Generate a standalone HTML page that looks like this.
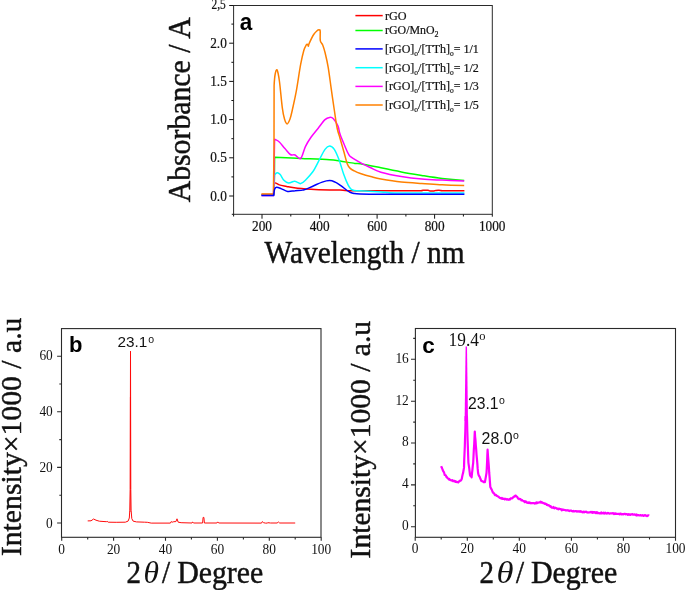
<!DOCTYPE html>
<html><head><meta charset="utf-8"><title>Figure</title>
<style>
html,body{margin:0;padding:0;background:#fff;}
svg{display:block;will-change:transform}
.s{font-family:"Liberation Serif","DejaVu Serif",serif;fill:#111}
.ss{font-family:"Liberation Sans","DejaVu Sans",sans-serif;fill:#111}
.b{font-family:"Liberation Sans","DejaVu Sans",sans-serif;font-weight:bold;fill:#000}
.c{fill:none;stroke-linejoin:round;stroke-linecap:butt}
</style></head><body>
<svg width="685" height="590" viewBox="0 0 685 590">

<g id="pa">
<rect x="233.6" y="5.5" width="258.7" height="208.8" fill="none" stroke="#2a2a2a" stroke-width="1"/>
<path d="M229.2,196.0H233.6M229.2,157.8H233.6M229.2,119.6H233.6M229.2,81.4H233.6M229.2,43.2H233.6M229.2,5.5H233.6M231.4,176.9H233.6M231.4,138.7H233.6M231.4,100.5H233.6M231.4,62.3H233.6M231.4,24.1H233.6M262.0,214.3V218.7M319.6,214.3V218.7M377.1,214.3V218.7M434.6,214.3V218.7M233.6,214.3V216.5M492.3,214.3V216.7M231.8,214.3H233.6M290.8,214.3V216.5M348.3,214.3V216.5M405.9,214.3V216.5M463.4,214.3V216.5" stroke="#111" stroke-width="1" fill="none"/>
<text class="s" transform="translate(226.8,200.6) scale(1,1.12)" font-size="13.3" text-anchor="end" stroke="#111" stroke-width="0.2">0.0</text>
<text class="s" transform="translate(226.8,162.4) scale(1,1.12)" font-size="13.3" text-anchor="end" stroke="#111" stroke-width="0.2">0.5</text>
<text class="s" transform="translate(226.8,124.1) scale(1,1.12)" font-size="13.3" text-anchor="end" stroke="#111" stroke-width="0.2">1.0</text>
<text class="s" transform="translate(226.8,85.9) scale(1,1.12)" font-size="13.3" text-anchor="end" stroke="#111" stroke-width="0.2">1.5</text>
<text class="s" transform="translate(226.8,47.7) scale(1,1.12)" font-size="13.3" text-anchor="end" stroke="#111" stroke-width="0.2">2.0</text>
<text class="s" transform="translate(225.8,8.9) scale(1,1.2)" font-size="11.4" text-anchor="end" stroke="#111" stroke-width="0.2">2,5</text>
<text class="s" transform="translate(262.0,231.0) scale(1,1.12)" font-size="13.3" text-anchor="middle" stroke="#111" stroke-width="0.2">200</text>
<text class="s" transform="translate(319.6,231.0) scale(1,1.12)" font-size="13.3" text-anchor="middle" stroke="#111" stroke-width="0.2">400</text>
<text class="s" transform="translate(377.1,231.0) scale(1,1.12)" font-size="13.3" text-anchor="middle" stroke="#111" stroke-width="0.2">600</text>
<text class="s" transform="translate(434.6,231.0) scale(1,1.12)" font-size="13.3" text-anchor="middle" stroke="#111" stroke-width="0.2">800</text>
<text class="s" transform="translate(492.2,231.0) scale(1,1.12)" font-size="13.3" text-anchor="middle" stroke="#111" stroke-width="0.2">1000</text>
<text class="s" transform="translate(264.6,262.9) scale(1,1.07)" font-size="29" textLength="200" lengthAdjust="spacingAndGlyphs" stroke="#111" stroke-width="0.45">Wavelength / nm</text>
<text class="s" transform="translate(189.8,202.3) rotate(-90)" font-size="30.5" textLength="185" lengthAdjust="spacingAndGlyphs" stroke="#111" stroke-width="0.45">Absorbance / A</text>
<text class="b" transform="translate(239.8,30.0) scale(1,1.06)" font-size="22.5">a</text>
<path class="c" d="M261.5,195.0 L273.6,195.0 L274.2,194.0 L274.6,157.3 C279.1,157.5 292.4,158.0 301.6,158.4 C310.8,158.8 323.2,159.2 329.6,159.7 C336.0,160.1 335.8,160.5 340.0,161.1 C344.2,161.7 351.4,163.0 354.8,163.4 C358.2,163.8 356.0,163.0 360.4,163.7 C364.8,164.4 374.1,166.4 380.9,167.8 C387.7,169.2 394.5,170.6 401.3,171.9 C408.1,173.2 415.0,174.3 421.8,175.4 C428.6,176.5 435.1,177.6 442.2,178.4 C449.3,179.2 460.5,180.2 464.2,180.5" stroke="#00ff00" stroke-width="1.5"/>
<path class="c" d="M261.5,194.6 L273.6,194.6 L274.2,190.0 C274.3,188.8 273.8,183.8 274.6,183.0 C275.5,182.2 277.3,184.3 279.3,184.9 C281.3,185.5 284.2,185.9 286.7,186.4 C289.2,186.9 290.1,187.2 294.2,187.7 C298.2,188.2 305.1,188.8 311.0,189.2 C316.9,189.6 324.8,189.8 329.6,189.9 C334.4,190.0 335.8,189.8 340.0,189.9 C344.2,190.0 342.2,190.6 354.8,190.7 C367.4,190.8 404.6,190.7 415.6,190.7 C426.6,190.7 419.8,190.8 421.0,190.7 C422.2,190.6 421.8,190.4 423.0,190.3 C424.2,190.2 426.8,190.2 428.0,190.3 C429.2,190.4 429.0,190.8 430.0,190.9 C431.0,191.0 433.0,191.0 434.0,190.9 C435.0,190.8 434.8,190.5 436.0,190.4 C437.2,190.3 439.8,190.3 441.0,190.4 C442.2,190.5 439.1,190.8 443.0,190.8 C446.9,190.9 460.8,190.7 464.4,190.7" stroke="#ff0000" stroke-width="1.5"/>
<path class="c" d="M261.5,195.2 L273.6,195.2 L274.3,180.0 L274.6,174.6 C275.1,174.3 276.5,172.8 277.4,172.8 C278.3,172.8 279.1,173.4 280.2,174.6 C281.3,175.8 282.5,178.8 283.9,180.2 C285.3,181.6 286.9,182.8 288.6,183.0 C290.3,183.2 292.8,181.3 294.2,181.2 C295.6,181.0 295.9,181.7 297.0,182.1 C298.1,182.5 299.3,183.9 300.7,183.6 C302.1,183.3 303.4,182.2 305.4,180.2 C307.4,178.2 310.6,174.9 312.8,171.8 C315.0,168.7 316.4,165.3 318.4,161.6 C320.4,157.9 323.1,152.0 325.0,149.4 C326.9,146.8 328.1,146.1 329.6,146.1 C331.2,146.1 332.7,147.1 334.3,149.4 C335.9,151.7 337.4,155.6 339.0,159.7 C340.6,163.8 342.1,169.8 343.6,174.0 C345.1,178.2 346.9,182.6 348.2,185.2 C349.5,187.8 350.2,188.4 351.2,189.3 C352.2,190.2 352.1,190.2 354.3,190.5 C356.5,190.8 360.1,190.7 364.5,190.9 C368.9,191.1 377.0,191.6 380.9,191.9 C384.8,192.2 385.6,192.4 388.0,192.6 C390.4,192.8 389.7,192.8 395.0,192.9 C400.3,193.0 408.4,193.0 420.0,193.0 C431.6,193.0 457.0,193.0 464.4,193.0" stroke="#00ffff" stroke-width="1.5"/>
<path class="c" d="M261.5,195.4 L273.6,195.4 L274.2,160.0 L274.6,139.2 C275.4,139.7 277.6,140.4 279.3,142.0 C281.0,143.6 283.0,146.4 284.9,148.5 C286.8,150.6 288.7,153.4 290.4,154.5 C292.1,155.6 293.4,154.3 295.1,155.0 C296.8,155.7 299.0,159.8 300.7,158.4 C302.4,157.0 303.7,150.1 305.4,146.6 C307.1,143.1 308.8,140.4 311.0,137.3 C313.2,134.2 316.1,130.9 318.4,128.0 C320.7,125.0 323.1,121.4 325.0,119.6 C326.9,117.8 328.2,117.6 329.6,117.4 C331.0,117.2 332.0,117.2 333.4,118.7 C334.8,120.2 336.9,123.5 338.0,126.1 C339.1,128.7 339.0,131.1 340.0,134.1 C341.0,137.1 342.7,141.1 344.1,144.3 C345.5,147.5 347.0,151.3 348.2,153.5 C349.4,155.7 349.2,155.7 351.2,157.2 C353.2,158.7 357.1,160.9 360.4,162.7 C363.6,164.5 367.3,166.2 370.7,167.8 C374.1,169.4 375.8,170.8 380.9,172.3 C386.0,173.8 394.5,175.5 401.3,176.6 C408.1,177.7 415.0,178.5 421.8,179.1 C428.6,179.7 435.1,179.8 442.2,180.1 C449.3,180.4 460.5,180.9 464.2,181.1" stroke="#ff00ff" stroke-width="1.5"/>
<path class="c" d="M261.5,194.1 L273.4,194.1 L274.0,150.0 L274.1,85.5 C274.2,83.6 274.7,76.6 275.2,74.0 C275.7,71.4 276.4,68.8 277.1,70.0 C277.8,71.2 278.5,74.6 279.4,81.0 C280.3,87.4 281.5,102.1 282.4,108.4 C283.2,114.7 283.7,116.4 284.5,119.0 C285.3,121.6 286.2,123.9 287.1,123.9 C288.0,123.9 289.1,121.3 290.0,119.0 C290.9,116.7 291.3,114.6 292.3,110.0 C293.3,105.4 294.8,99.2 296.2,91.6 C297.6,84.0 299.4,71.0 300.7,64.2 C302.0,57.4 302.9,53.7 303.8,50.5 C304.7,47.3 305.5,46.2 306.1,45.2 C306.7,44.2 307.2,44.2 307.6,44.4 C308.0,44.6 308.1,46.3 308.4,46.2 C308.6,46.1 308.2,45.6 309.1,43.6 C310.0,41.6 312.3,36.7 313.7,34.5 C315.1,32.3 316.6,31.2 317.5,30.4 C318.4,29.6 318.6,29.8 319.0,29.9 C319.4,30.0 320.0,29.2 320.2,31.0 C320.4,32.8 319.9,38.2 320.3,40.6 C320.7,43.0 322.0,43.2 322.8,45.2 C323.6,47.2 324.2,49.1 325.1,52.8 C326.0,56.5 327.2,61.3 328.2,67.3 C329.2,73.3 330.2,81.5 331.2,88.6 C332.2,95.7 333.3,103.4 334.3,110.0 C335.3,116.6 336.2,123.3 337.1,128.0 C338.1,132.7 338.8,134.1 340.0,138.2 C341.2,142.3 342.9,148.2 344.1,152.5 C345.3,156.8 346.2,161.0 347.2,163.7 C348.2,166.3 349.0,167.2 350.2,168.4 C351.4,169.6 352.6,170.1 354.3,170.9 C356.0,171.8 357.7,172.6 360.4,173.5 C363.1,174.4 367.3,175.7 370.7,176.6 C374.1,177.5 375.8,178.2 380.9,179.1 C386.0,180.0 394.5,181.4 401.3,182.1 C408.1,182.8 415.0,183.1 421.8,183.5 C428.6,183.9 435.1,184.5 442.2,184.8 C449.3,185.2 460.5,185.5 464.2,185.6" stroke="#ff8000" stroke-width="1.5"/>
<path class="c" d="M261.5,195.5 L273.6,195.5 C273.8,194.4 274.1,190.6 274.6,189.2 C275.1,187.8 275.4,187.4 276.5,187.3 C277.6,187.2 279.2,187.9 281.1,188.6 C283.0,189.3 285.3,191.1 287.6,191.4 C289.9,191.8 292.5,190.9 295.1,190.7 C297.8,190.4 300.6,190.7 303.5,189.9 C306.4,189.2 309.7,187.5 312.8,186.2 C315.9,184.9 319.4,183.0 322.2,182.1 C325.0,181.2 327.4,180.6 329.6,180.6 C331.8,180.6 333.3,181.3 335.2,182.1 C337.1,182.9 338.9,184.3 340.8,185.6 C342.7,186.9 344.9,188.9 346.4,190.0 C347.9,191.1 348.7,191.6 350.0,192.2 C351.3,192.8 352.3,193.2 354.0,193.5 C355.7,193.8 355.7,193.9 360.0,194.0 C364.3,194.1 370.0,194.2 380.0,194.2 C390.0,194.2 405.9,194.2 420.0,194.2 C434.1,194.2 457.0,194.2 464.4,194.2" stroke="#0000ff" stroke-width="1.5"/>
<path d="M355.4,15.6H382.7" stroke="#ff0000" stroke-width="1.5"/>
<path d="M355.4,30.5H382.7" stroke="#00ff00" stroke-width="1.5"/>
<path d="M355.4,48.9H382.7" stroke="#0000ff" stroke-width="1.5"/>
<path d="M355.4,67.7H382.7" stroke="#00ffff" stroke-width="1.5"/>
<path d="M355.4,86.4H382.7" stroke="#ff00ff" stroke-width="1.5"/>
<path d="M355.4,105.0H382.7" stroke="#ff8000" stroke-width="1.5"/>
<text class="s" transform="translate(385,19.5) scale(1,1.05)" font-size="12.2" stroke="#111" stroke-width="0.2">rGO</text>
<text class="s" transform="translate(385,34.4) scale(1,1.07)" font-size="11.9" stroke="#111" stroke-width="0.2">rGO/MnO<tspan font-size="8" dy="2.5">2</tspan></text>
<text class="s" transform="translate(385,52.8) scale(1,1.05)" font-size="12" stroke="#111" stroke-width="0.2">[rGO]<tspan font-size="7.5" dy="2.8">o</tspan><tspan dy="-2.8">/[TTh]</tspan><tspan font-size="7.5" dy="2.8">o</tspan><tspan dy="-2.8">= 1/1</tspan></text>
<text class="s" transform="translate(385,71.6) scale(1,1.05)" font-size="12" stroke="#111" stroke-width="0.2">[rGO]<tspan font-size="7.5" dy="2.8">o</tspan><tspan dy="-2.8">/[TTh]</tspan><tspan font-size="7.5" dy="2.8">o</tspan><tspan dy="-2.8">= 1/2</tspan></text>
<text class="s" transform="translate(385,90.3) scale(1,1.05)" font-size="12" stroke="#111" stroke-width="0.2">[rGO]<tspan font-size="7.5" dy="2.8">o</tspan><tspan dy="-2.8">/[TTh]</tspan><tspan font-size="7.5" dy="2.8">o</tspan><tspan dy="-2.8">= 1/3</tspan></text>
<text class="s" transform="translate(385,108.9) scale(1,1.05)" font-size="12" stroke="#111" stroke-width="0.2">[rGO]<tspan font-size="7.5" dy="2.8">o</tspan><tspan dy="-2.8">/[TTh]</tspan><tspan font-size="7.5" dy="2.8">o</tspan><tspan dy="-2.8">= 1/5</tspan></text>
</g>
<g id="pb">
<rect x="61.5" y="328.6" width="259.5" height="208.7" fill="none" stroke="#2a2a2a" stroke-width="1.1"/>
<path d="M57.1,523.0H61.5M57.1,467.4H61.5M57.1,411.8H61.5M57.1,356.2H61.5M59.3,495.2H61.5M59.3,439.6H61.5M59.3,384.0H61.5M61.7,537.3V540.7M113.6,537.3V540.7M165.5,537.3V540.7M217.4,537.3V540.7M269.3,537.3V540.7M321.2,537.3V540.7M87.7,537.3V539.5M139.6,537.3V539.5M191.4,537.3V539.5M243.4,537.3V539.5M295.2,537.3V539.5" stroke="#2a2a2a" stroke-width="1.1" fill="none"/>
<text class="s" transform="translate(52.8,527.8) scale(1,1.12)" font-size="13.4" text-anchor="end">0</text>
<text class="s" transform="translate(52.8,471.9) scale(1,1.12)" font-size="13.4" text-anchor="end">20</text>
<text class="s" transform="translate(52.8,416.0) scale(1,1.12)" font-size="13.4" text-anchor="end">40</text>
<text class="s" transform="translate(52.8,360.1) scale(1,1.12)" font-size="13.4" text-anchor="end">60</text>
<text class="s" transform="translate(61.7,553.8) scale(1,1.12)" font-size="13.4" text-anchor="middle">0</text>
<text class="s" transform="translate(113.6,553.8) scale(1,1.12)" font-size="13.4" text-anchor="middle">20</text>
<text class="s" transform="translate(165.5,553.8) scale(1,1.12)" font-size="13.4" text-anchor="middle">40</text>
<text class="s" transform="translate(217.4,553.8) scale(1,1.12)" font-size="13.4" text-anchor="middle">60</text>
<text class="s" transform="translate(269.3,553.8) scale(1,1.12)" font-size="13.4" text-anchor="middle">80</text>
<text class="s" transform="translate(321.2,553.8) scale(1,1.12)" font-size="13.4" text-anchor="middle">100</text>
<text class="s" transform="translate(20.6,556.1) rotate(-90)" font-size="30" textLength="238.5" lengthAdjust="spacingAndGlyphs" stroke="#111" stroke-width="0.45">Intensity×1000 / a.u</text>
<text class="s" transform="translate(126.6,582.8) scale(1,1.08)" font-size="29" stroke="#111" stroke-width="0.45">2</text>
<text class="s" transform="translate(143.6,582.8) scale(1,1.08)" font-size="30" textLength="15.5" lengthAdjust="spacingAndGlyphs" font-style="italic">θ</text>
<text class="s" transform="translate(162.1,582.8) scale(1,1.08)" font-size="29" stroke="#111" stroke-width="0.45">/</text>
<text class="s" transform="translate(177.2,582.8) scale(1,1.08)" font-size="29" textLength="86.0" lengthAdjust="spacingAndGlyphs" stroke="#111" stroke-width="0.45">Degree</text>
<text class="b" transform="translate(69.0,352.1)" font-size="22">b</text>
<text class="ss" transform="translate(117.6,347.3)" font-size="15.3">23.1<tspan font-size="10.5" dy="-4.8" dx="0.8">o</tspan></text>
<path class="c" d="M87.7,520.9 L91.0,520.8 L93.6,519.0 L96.0,520.2 L99.3,521.2 L106.3,521.7 L107.1,521.3 L108.2,522.2 L116.2,522.3 L125.3,522.2 L128.1,521.1 L129.3,518.0 L129.8,510.2 L130.2,489.6 L130.5,351.2 L130.8,489.6 L131.1,510.2 L131.8,518.6 L133.1,521.1 L136.4,521.9 L144.7,522.2 L147.3,522.3 L151.2,523.1 L170.4,523.1 L171.2,521.6 L172.2,522.2 L173.8,521.7 L175.9,521.6 L177.0,518.8 L178.2,522.2 L181.1,522.7 L192.0,523.0 L192.7,522.0 L193.8,523.0 L202.6,523.0 L203.1,517.4 L203.9,517.4 L204.4,523.0 L216.9,523.0 L217.7,521.9 L218.7,523.0 L261.5,523.1 L262.3,521.6 L263.6,522.7 L265.4,523.1 L267.5,523.1 L267.7,522.7 L270.6,523.0 L277.1,523.0 L278.4,522.0 L279.7,523.0 L295.2,523.0" stroke="#ff0a0a" stroke-width="1" stroke-linejoin="miter" stroke-miterlimit="20"/>
<path d="M130.35,397V512" stroke="#ff0000" stroke-width="0.5"/>
</g>
<g id="pc">
<rect x="415.4" y="328.5" width="260.1" height="208.8" fill="none" stroke="#2a2a2a" stroke-width="1.1"/>
<path d="M411.0,526.7H415.4M411.0,484.9H415.4M411.0,443.0H415.4M411.0,401.2H415.4M411.0,359.3H415.4M413.2,505.8H415.4M413.2,463.9H415.4M413.2,422.1H415.4M413.2,380.3H415.4M413.2,338.4H415.4M415.2,537.3V540.7M467.3,537.3V540.7M519.3,537.3V540.7M571.4,537.3V540.7M623.4,537.3V540.7M675.5,537.3V540.7M441.2,537.3V539.5M493.3,537.3V539.5M545.4,537.3V539.5M597.4,537.3V539.5M649.5,537.3V539.5" stroke="#2a2a2a" stroke-width="1.1" fill="none"/>
<text class="s" transform="translate(408.8,530.0) scale(1,1.12)" font-size="13.4" text-anchor="end">0</text>
<text class="s" transform="translate(408.8,488.2) scale(1,1.12)" font-size="13.4" text-anchor="end">4</text>
<text class="s" transform="translate(408.8,446.3) scale(1,1.12)" font-size="13.4" text-anchor="end">8</text>
<text class="s" transform="translate(408.8,404.5) scale(1,1.12)" font-size="13.4" text-anchor="end">12</text>
<text class="s" transform="translate(408.8,362.6) scale(1,1.12)" font-size="13.4" text-anchor="end">16</text>
<text class="s" transform="translate(415.2,553.2) scale(1,1.12)" font-size="13.4" text-anchor="middle">0</text>
<text class="s" transform="translate(467.3,553.2) scale(1,1.12)" font-size="13.4" text-anchor="middle">20</text>
<text class="s" transform="translate(519.3,553.2) scale(1,1.12)" font-size="13.4" text-anchor="middle">40</text>
<text class="s" transform="translate(571.4,553.2) scale(1,1.12)" font-size="13.4" text-anchor="middle">60</text>
<text class="s" transform="translate(623.4,553.2) scale(1,1.12)" font-size="13.4" text-anchor="middle">80</text>
<text class="s" transform="translate(675.5,553.2) scale(1,1.12)" font-size="13.4" text-anchor="middle">100</text>
<text class="s" transform="translate(370.1,558.4) rotate(-90)" font-size="30" textLength="237.5" lengthAdjust="spacingAndGlyphs" stroke="#111" stroke-width="0.45">Intensity×1000 / a.u</text>
<text class="s" transform="translate(479.4,582.8) scale(1,1.08)" font-size="29" stroke="#111" stroke-width="0.45">2</text>
<text class="s" transform="translate(496.4,582.8) scale(1,1.08)" font-size="30" textLength="17.0" lengthAdjust="spacingAndGlyphs" font-style="italic">θ</text>
<text class="s" transform="translate(516.0,582.8) scale(1,1.08)" font-size="29" stroke="#111" stroke-width="0.45">/</text>
<text class="s" transform="translate(531.0,582.8) scale(1,1.08)" font-size="29" textLength="86.3" lengthAdjust="spacingAndGlyphs" stroke="#111" stroke-width="0.45">Degree</text>
<text class="b" transform="translate(422.2,352.7)" font-size="22.5">c</text>
<text class="s" transform="translate(448.6,345.5) scale(1,1.08)" font-size="17.4">19.4<tspan font-size="12.5" dy="-5.2" dx="0.3">o</tspan></text>
<text class="ss" transform="translate(468.0,409.0)" font-size="15.7">23.1<tspan font-size="10.5" dy="-4.6" dx="0.5">o</tspan></text>
<text class="ss" transform="translate(481.6,444.0)" font-size="15.9">28.0<tspan font-size="10.5" dy="-4.8" dx="0.5">o</tspan></text>
<path class="c" d="M441.2,466.1 L441.7,467.6 L442.2,468.6 L442.7,470.0 L443.2,471.2 L443.7,471.8 L444.2,472.9 L444.7,475.0 L445.3,475.0 L445.9,475.6 L446.5,477.1 L447.0,477.2 L447.6,478.3 L448.2,478.5 L448.8,479.4 L449.3,479.0 L449.9,479.8 L450.4,480.2 L451.0,480.1 L451.5,480.5 L452.0,480.6 L452.6,480.2 L453.1,481.2 L453.7,481.2 L454.2,481.1 L454.8,480.9 L455.4,481.9 L456.0,481.5 L456.5,481.9 L457.1,482.1 L457.7,482.0 L458.3,482.4 L458.9,481.3 L459.5,481.3 L460.1,480.5 L460.6,480.6 L461.2,480.1 L461.8,478.8 L462.2,476.5 L462.7,474.3 L463.1,472.9 L463.6,470.0 L464.0,467.9 L464.2,460.6 L464.5,453.9 L464.8,446.8 L465.0,439.8 L465.3,431.8 L465.5,423.4 L465.7,416.0" stroke="#ff00ff" stroke-width="2.2"/>
<path class="c" d="M466.9,416.0 L467.1,423.1 L467.3,431.2 L467.6,440.4 L467.9,448.0 L468.1,454.5 L468.4,462.7 L468.8,465.4 L469.2,468.1 L469.6,471.3 L470.0,474.9 L470.5,475.9 L471.1,475.9 L471.6,477.4 L472.0,473.1 L472.4,470.1 L472.8,465.9 L473.2,462.8 L473.5,456.8 L473.8,450.2 L474.2,444.7 L474.5,437.9 L474.8,431.5 L475.1,436.5 L475.5,440.4 L475.8,445.0 L476.2,449.7 L476.5,454.3 L476.9,458.6 L477.3,463.2 L477.7,468.9 L478.1,473.0 L478.6,475.0 L479.2,476.2 L479.7,476.9 L480.2,478.2 L480.8,479.6 L481.3,481.0 L481.9,481.1 L482.5,481.3 L483.1,481.6 L483.7,482.2 L484.3,482.0 L484.9,482.1 L485.4,479.4 L486.0,475.9 L486.5,473.0 L486.8,468.0 L487.1,461.7 L487.3,456.0 L487.6,449.7 L488.0,456.0 L488.5,462.0 L488.9,467.3 L489.2,472.7 L489.6,477.4 L489.9,481.6 L490.3,486.9 L490.8,487.9 L491.4,489.2 L491.9,490.0 L492.4,491.5 L493.0,492.6 L493.5,493.0 L494.1,493.4 L494.6,494.5 L495.2,495.2 L495.8,494.8 L496.3,495.4 L496.9,496.0 L497.5,496.0 L498.0,496.5 L498.6,496.8 L499.2,497.3 L499.7,497.9 L500.3,498.0 L500.8,498.2 L501.4,498.7 L501.9,498.0 L502.5,498.7 L503.0,499.0 L503.6,498.6 L504.1,498.6 L504.7,499.4 L505.2,498.9 L505.8,498.9 L506.3,499.3 L506.9,499.7 L507.4,499.1 L508.0,499.5 L508.5,499.6 L509.0,499.9 L509.6,499.2 L510.1,499.4 L510.7,498.4 L511.2,498.3 L511.7,498.3 L512.3,498.3 L512.8,497.6 L513.4,497.1 L513.9,496.7 L514.5,496.6 L515.2,495.6 L515.8,495.7 L516.3,496.5 L516.9,496.5 L517.5,497.3 L518.0,498.5 L518.6,498.6 L519.1,499.1 L519.7,498.9 L520.2,499.0 L520.8,499.4 L521.4,500.3 L521.9,500.0 L522.5,500.4 L523.0,500.7 L523.6,501.0 L524.1,501.3 L524.7,502.2 L525.3,501.4 L525.8,501.4 L526.4,502.5 L526.9,502.6 L527.5,502.8 L528.1,502.3 L528.6,503.0 L529.2,503.1 L529.7,502.4 L530.3,503.1 L530.8,503.3 L531.4,503.2 L532.0,503.2 L532.5,503.0 L533.1,503.2 L533.6,503.2 L534.2,503.1 L534.8,503.5 L535.4,503.0 L536.0,503.4 L536.6,502.3 L537.2,503.1 L537.8,502.7 L538.4,502.7 L539.0,502.5 L539.6,502.3 L540.1,502.2 L540.7,501.7 L541.2,502.7 L541.8,502.2 L542.4,502.5 L542.9,503.1 L543.5,503.1 L544.0,503.2 L544.6,503.9 L545.1,503.7 L545.7,503.7 L546.2,503.9 L546.8,504.9 L547.3,504.7 L547.9,505.4 L548.5,505.2 L549.0,505.3 L549.6,506.0 L550.1,506.6 L550.7,506.2 L551.2,507.1 L551.8,507.6 L552.3,507.6 L552.9,507.8 L553.4,507.0 L554.0,507.9 L554.5,508.3 L555.1,507.6 L555.6,508.0 L556.2,508.1 L556.7,508.6 L557.3,508.6 L557.8,508.8 L558.4,509.3 L558.9,508.6 L559.5,508.9 L560.0,509.1 L560.6,509.2 L561.1,509.2 L561.7,510.3 L562.2,510.2 L562.8,509.4 L563.3,510.0 L563.9,509.8 L564.4,509.9 L565.0,510.0 L565.6,510.4 L566.1,510.5 L566.7,510.3 L567.2,510.2 L567.8,510.4 L568.3,510.3 L568.9,510.8 L569.4,511.1 L570.0,510.8 L570.6,510.5 L571.1,510.6 L571.7,510.9 L572.2,511.2 L572.8,511.4 L573.4,511.0 L573.9,511.5 L574.5,511.3 L575.0,511.2 L575.6,511.1 L576.2,511.3 L576.7,511.6 L577.3,511.3 L577.8,511.6 L578.4,511.4 L579.0,511.2 L579.5,511.6 L580.1,511.8 L580.6,511.2 L581.2,511.6 L581.8,511.6 L582.3,512.2 L582.9,512.3 L583.4,511.7 L584.0,512.3 L584.5,512.2 L585.1,511.7 L585.7,511.9 L586.2,511.6 L586.8,512.4 L587.3,512.3 L587.9,512.6 L588.5,512.5 L589.0,512.4 L589.6,512.5 L590.1,512.3 L590.7,511.9 L591.3,512.5 L591.8,511.8 L592.4,512.0 L592.9,512.8 L593.5,512.0 L594.1,512.1 L594.6,512.1 L595.2,513.0 L595.7,512.3 L596.3,512.2 L596.9,513.1 L597.4,512.3 L598.0,513.2 L598.5,513.0 L599.1,513.2 L599.6,513.4 L600.2,513.0 L600.7,513.3 L601.3,512.4 L601.9,513.3 L602.4,513.0 L603.0,513.3 L603.5,512.6 L604.1,513.4 L604.6,513.6 L605.2,512.7 L605.7,513.0 L606.3,513.3 L606.8,513.6 L607.4,513.0 L608.0,512.9 L608.5,513.1 L609.1,513.5 L609.6,513.7 L610.2,513.3 L610.7,513.3 L611.3,513.4 L611.8,513.3 L612.4,513.4 L613.0,513.1 L613.5,513.6 L614.1,514.1 L614.6,513.5 L615.2,513.9 L615.7,513.3 L616.3,513.9 L616.8,514.0 L617.4,514.0 L617.9,513.8 L618.5,513.8 L619.1,514.0 L619.6,514.3 L620.2,513.5 L620.7,513.5 L621.3,514.3 L621.8,514.5 L622.4,514.1 L622.9,514.0 L623.5,514.3 L624.1,513.8 L624.6,513.9 L625.2,513.9 L625.7,514.3 L626.3,514.1 L626.9,514.0 L627.4,514.6 L628.0,514.9 L628.5,514.2 L629.1,514.7 L629.6,514.4 L630.2,514.9 L630.8,514.6 L631.3,514.3 L631.9,514.3 L632.4,514.1 L633.0,514.7 L633.6,514.6 L634.1,514.4 L634.7,514.6 L635.2,514.6 L635.8,515.2 L636.4,514.5 L636.9,515.5 L637.5,514.9 L638.0,515.1 L638.6,515.0 L639.1,515.4 L639.7,515.5 L640.3,515.2 L640.8,515.2 L641.4,515.5 L641.9,515.6 L642.5,515.2 L643.1,515.6 L643.6,515.9 L644.2,515.4 L644.7,515.1 L645.3,515.2 L645.8,515.7 L646.4,515.7 L647.0,516.1 L647.5,516.0 L648.1,515.3 L648.6,515.3 L649.2,515.7" stroke="#ff00ff" stroke-width="2.2"/>
<path d="M464.6,421 L465.6,346.4 L467.0,346.4 L468.0,421 Z" fill="#ff00ff"/>
</g>
</svg></body></html>
